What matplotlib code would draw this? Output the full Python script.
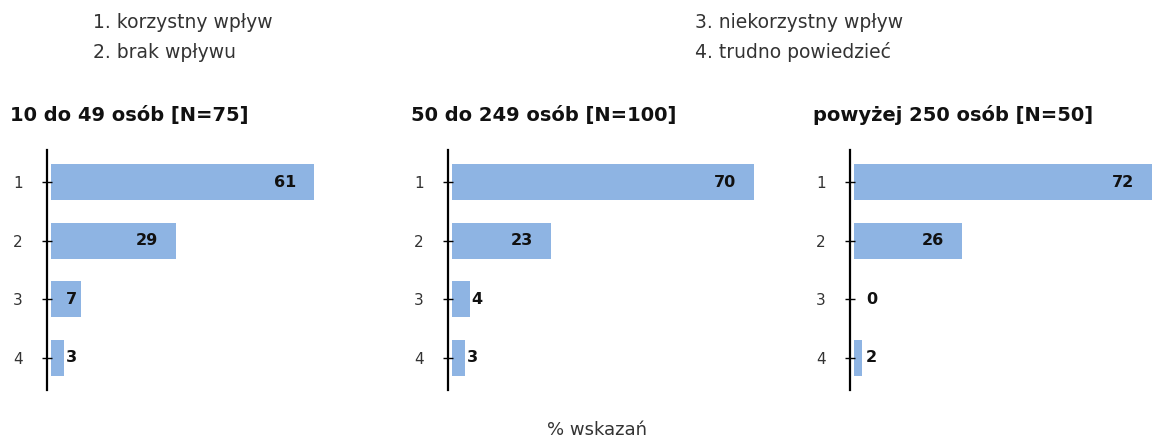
import matplotlib
matplotlib.use("Agg")
import matplotlib.pyplot as plt

# data
categories = ["1", "2", "3", "4"]
legend_left = ["1. korzystny wpływ", "2. brak wpływu"]
legend_right = ["3. niekorzystny wpływ", "4. trudno powiedzieć"]
titles = ["10 do 49 osób [N=75]", "50 do 249 osób [N=100]", "powyżej 250 osób [N=50]"]
vals_small = [61, 29, 7, 3]
vals_medium = [70, 23, 4, 3]
vals_large = [72, 26, 0, 2]
xlabel = "% wskazań"

BAR_COLOR = "#8EB4E3"
W, H = 1152, 438

plt.rcParams["font.family"] = "DejaVu Sans"
fig = plt.figure(figsize=(W / 100, H / 100), dpi=100)

# panel layout in pixels: left, width, xmax
panels = [
    (47, 306, 70, vals_small),
    (448, 306, 70, vals_medium),
    (850, 302, 72, vals_large),
]
top_px, bot_px = 150, 390

for i, (left, width, xmax, vals) in enumerate(panels):
    ax = fig.add_axes([left / W, 1 - bot_px / H, width / W, (bot_px - top_px) / H])
    y = list(range(1, len(categories) + 1))
    ax.barh(y, vals, height=0.62, color=BAR_COLOR, left=0)
    ax.set_xlim(-1, xmax)
    ax.set_ylim(4.55, 0.45)
    ax.set_yticks(y)
    ax.set_yticklabels(categories, fontsize=11, color="#333333")
    ax.tick_params(axis="y", direction="inout", length=7, width=1, pad=14)
    ax.set_xticks([])
    for s in ["top", "right", "bottom"]:
        ax.spines[s].set_visible(False)
    ax.spines["left"].set_linewidth(1.6)
    for yy, v in zip(y, vals):
        if v >= 5:
            off = -13 if v >= 15 else -3
            ax.annotate(str(v), (v, yy), xytext=(off, 0), textcoords="offset points",
                        ha="right", va="center", fontsize=11.5, fontweight="bold", color="#111111")
        else:
            ax.annotate(str(v), (max(v, 2.5), yy), xytext=(1, 0), textcoords="offset points",
                        ha="left", va="center", fontsize=11.5, fontweight="bold", color="#111111")
    fig.text((left - 37) / W, 1 - 115 / H, titles[i], fontsize=14, fontweight="bold",
             ha="left", va="center", color="#111111")

# legend text
for j, t in enumerate(legend_left):
    fig.text(93 / W, 1 - (22 + 30 * j) / H, t, fontsize=13.5, ha="left", va="center", color="#333333")
for j, t in enumerate(legend_right):
    fig.text(695 / W, 1 - (22 + 30 * j) / H, t, fontsize=13.5, ha="left", va="center", color="#333333")

fig.text(597 / W, 1 - 430 / H, xlabel, fontsize=13, ha="center", va="center", color="#333333")

fig.savefig("out.png", dpi=100, facecolor="white")
